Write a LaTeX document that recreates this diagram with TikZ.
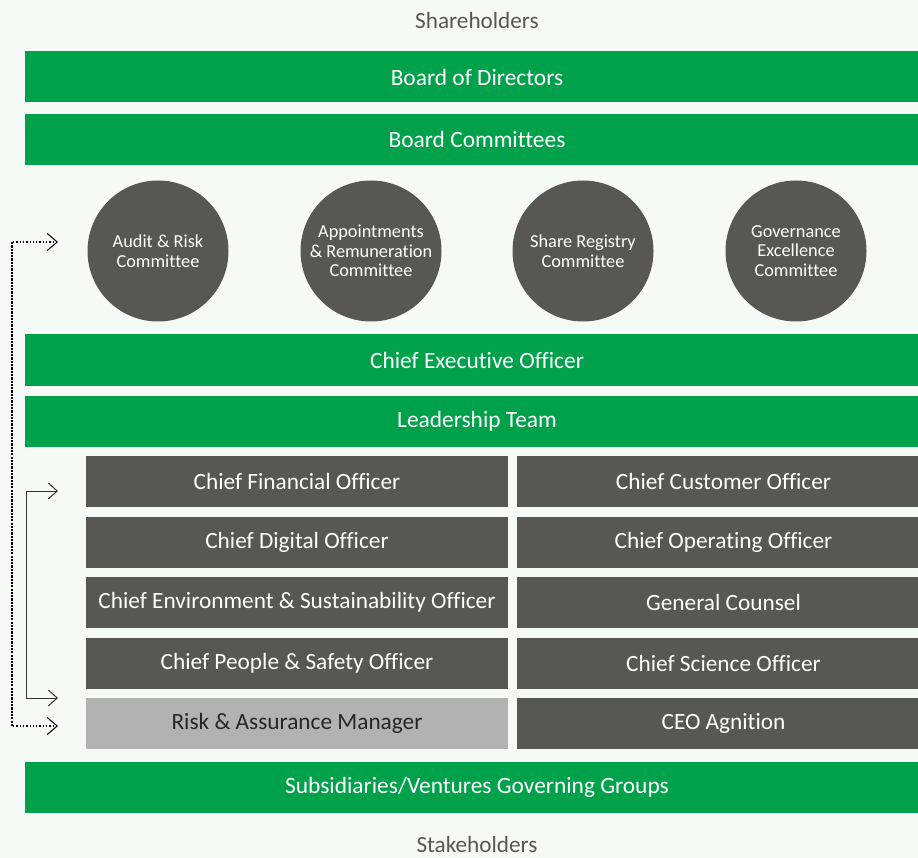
\documentclass[tikz,border=0pt]{standalone}
\usepackage{fontspec}
\setmainfont{Carlito}[Ligatures=NoCommon]
\usepackage{tikz}
\usetikzlibrary{arrows.meta, positioning, calc}
\definecolor{bgmint}{HTML}{F5FAF7}
\definecolor{boardgreen}{HTML}{00A14B}
\definecolor{darkgrey}{HTML}{575756}
\definecolor{lightgrey}{HTML}{B2B2B2}
\definecolor{labelgrey}{HTML}{575756}

\tikzset{
    band/.style={fill=boardgreen, text=white, minimum width=904pt, minimum height=51pt,
        inner sep=0pt, font=\fontsize{23.4}{28}\selectfont},
    officer/.style={fill=darkgrey, text=white, minimum height=51pt, inner sep=0pt,
        font=\fontsize{23.3}{28}\selectfont},
    committee/.style={circle, fill=darkgrey, text=white, minimum size=141pt, inner sep=0pt,
        align=center, font=\fontsize{18.3}{19.5}\selectfont},
    outer/.style={text=labelgrey, font=\fontsize{23.2}{28}\selectfont},
    dotlink/.style={line width=1.3pt, dash pattern=on 1.3pt off 2pt,
        -{Straight Barb[length=10pt,width=17pt,line width=1pt]}},
    solidlink/.style={line width=1pt, black!80, -{Straight Barb[length=9pt,width=16pt,line width=1pt]}}
}

\begin{document}
\begin{tikzpicture}[x=1pt, y=-1pt]
        \useasboundingbox (0,0) rectangle (918,858);
        \fill[bgmint] (0,0) rectangle (918,858);

        % Vertici e bande verdi
        \node[outer] (share) at (477,21) {Shareholders};
        \node[band] (bod) at (477,77) {Board of Directors};
        \node[band] (bcom) at (477,139.5) {Board Committees};

        % Comitati
        \node[committee] (audit) at (158,251) {Audit \& Risk\\Committee};
        \node[committee] (appt) at (371,251) {Appointments\\\& Remuneration\\Committee};
        \node[committee] (share reg) at (583,251) {Share Registry\\Committee};
        \node[committee] (gov) at (796,251) {Governance\\Excellence\\Committee};

        \node[band] (ceo) at (477,360) {Chief Executive Officer};
        \node[band] (lead) at (477,421) {Leadership Team};

        % Leadership team, colonna sinistra
        \node[officer, minimum width=422pt] (cfo) at (297,481) {Chief Financial Officer};
        \node[officer, minimum width=422pt] (cdo) at (297,542) {Chief Digital Officer};
        \node[officer, minimum width=422pt] (ceso) at (297,602) {Chief Environment \& Sustainability Officer};
        \node[officer, minimum width=422pt] (cpso) at (297,663) {Chief People \& Safety Officer};
        \node[officer, minimum width=422pt, fill=lightgrey, text=black!85] (risk) at (297,723) {Risk \& Assurance Manager};

        % Leadership team, colonna destra
        \node[officer, minimum width=413pt] (cco) at (723.5,481) {Chief Customer Officer};
        \node[officer, minimum width=413pt] (coo) at (723.5,542) {Chief Operating Officer};
        \node[officer, minimum width=413pt] (gc) at (723.5,602) {General Counsel};
        \node[officer, minimum width=413pt] (cso) at (723.5,663) {Chief Science Officer};
        \node[officer, minimum width=413pt] (agn) at (723.5,723) {CEO Agnition};

        \node[band] (subs) at (477,787) {Subsidiaries/Ventures Governing Groups};
        \node[outer] (stake) at (477,845) {Stakeholders};

        % Collegamenti a sinistra
        \coordinate (dotA) at (12,242);
        \coordinate (dotB) at (12,726);
        \coordinate (solA) at (26,491);
        \coordinate (solB) at (26,698);
        \draw[dotlink] (dotB) -- (dotA) -- (dotA -| 58,0);
        \draw[dotlink] (dotA) -- (dotB) -- (dotB -| 58,0);
        \draw[solidlink] (solB) -- (solA) -- (solA -| 58,0);
        \draw[solidlink] (solA) -- (solB) -- (solB -| 58,0);
    \end{tikzpicture}
\end{document}
